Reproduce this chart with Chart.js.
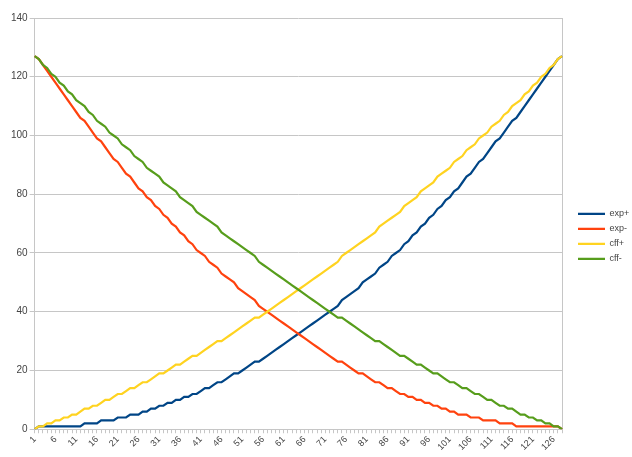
<!DOCTYPE html>
<html>
<head>
<meta charset="utf-8">
<script src="https://cdn.jsdelivr.net/npm/chart.js@4/dist/chart.umd.min.js"></script>
<style>
html, body { margin: 0; padding: 0; background: #fff; }
#wrap { width: 632px; height: 457px; }
</style>
</head>
<body>
<div id="wrap"><canvas id="myChart" width="632" height="457"></canvas></div>
<script>
// categories 1..128 along the x axis
var steps = [1,2,3,4,5,6,7,8,9,10,11,12,13,14,15,16,17,18,19,20,
  21,22,23,24,25,26,27,28,29,30,31,32,33,34,35,36,37,38,39,40,
  41,42,43,44,45,46,47,48,49,50,51,52,53,54,55,56,57,58,59,60,
  61,62,63,64,65,66,67,68,69,70,71,72,73,74,75,76,77,78,79,80,
  81,82,83,84,85,86,87,88,89,90,91,92,93,94,95,96,97,98,99,100,
  101,102,103,104,105,106,107,108,109,110,111,112,113,114,115,116,117,118,119,120,
  121,122,123,124,125,126,127,128];

// only these get a visible label
var shownTicks = [1,6,11,16,21,26,31,36,41,46,51,56,61,66,71,76,81,86,91,96,101,106,111,116,121,126];

var seriesNames = ['exp+', 'exp-', 'cff+', 'cff-'];

var expUp = [0,1,1,1,1,1,1,1,1,1,
  1,1,2,2,2,2,3,3,3,3,
  4,4,4,5,5,5,6,6,7,7,
  8,8,9,9,10,10,11,11,12,12,
  13,14,14,15,16,16,17,18,19,19,
  20,21,22,23,23,24,25,26,27,28,
  29,30,31,32,33,34,35,36,37,38,
  39,40,41,42,44,45,46,47,48,50,
  51,52,53,55,56,57,59,60,61,63,
  64,66,67,69,70,72,73,75,76,78,
  79,81,82,84,86,87,89,91,92,94,
  96,98,99,101,103,105,106,108,110,112,
  114,116,118,120,122,124,126,127];

var expDown = [127,126,124,122,120,118,116,114,
  112,110,108,106,105,103,101,99,98,96,
  94,92,91,89,87,86,84,82,81,79,
  78,76,75,73,72,70,69,67,66,64,
  63,61,60,59,57,56,55,53,52,51,
  50,48,47,46,45,44,42,41,40,39,
  38,37,36,35,34,33,32,31,30,29,
  28,27,26,25,24,23,23,22,21,20,
  19,19,18,17,16,16,15,14,14,13,
  12,12,11,11,10,10,9,9,8,8,
  7,7,6,6,5,5,5,4,4,4,
  3,3,3,3,2,2,2,2,1,1,
  1,1,1,1,1,1,1,1,1,0];

var cffUp = [0,1,1,2,2,3,3,4,4,5,
  5,6,7,7,8,8,9,10,10,11,
  12,12,13,14,14,15,16,16,17,18,
  19,19,20,21,22,22,23,24,25,25,
  26,27,28,29,30,30,31,32,33,34,
  35,36,37,38,38,39,40,41,42,43,
  44,45,46,47,48,49,50,51,52,53,
  54,55,56,57,59,60,61,62,63,64,
  65,66,67,69,70,71,72,73,74,76,
  77,78,79,81,82,83,84,86,87,88,
  89,91,92,93,95,96,97,99,100,101,
  103,104,105,107,108,110,111,112,114,115,
  117,118,120,121,123,124,126,127];

var cffDown = [127,126,124,123,121,120,118,117,
  115,114,112,111,110,108,107,105,104,103,
  101,100,99,97,96,95,93,92,91,89,
  88,87,86,84,83,82,81,79,78,77,
  76,74,73,72,71,70,69,67,66,65,
  64,63,62,61,60,59,57,56,55,54,
  53,52,51,50,49,48,47,46,45,44,
  43,42,41,40,39,38,38,37,36,35,
  34,33,32,31,30,30,29,28,27,26,
  25,25,24,23,22,22,21,20,19,19,
  18,17,16,16,15,14,14,13,12,12,
  11,10,10,9,8,8,7,7,6,5,
  5,4,4,3,3,2,2,1,1,0];

var yTicks = [0, 20, 40, 60, 80, 100, 120, 140];

var colors = ['#004586', '#ff420e', '#ffd320', '#579d1c'];
var allSeries = [expUp, expDown, cffUp, cffDown];

var datasets = [];
for (var i = 0; i < allSeries.length; i++) {
  datasets.push({
    label: seriesNames[i],
    data: allSeries[i],
    borderColor: colors[i],
    backgroundColor: colors[i],
    borderWidth: 2.2,
    pointRadius: 0,
    tension: 0,
    fill: false,
    order: allSeries.length - i // later series drawn on top, like the original
  });
}

var gridGrey = '#c6c6c6';
var textGrey = '#444';

var ctx = document.getElementById('myChart').getContext('2d');
var myChart = new Chart(ctx, {
  type: 'line',
  data: { labels: steps, datasets: datasets },
  options: {
    responsive: false,
    animation: false,
    devicePixelRatio: 1,
    layout: { padding: { left: 9, top: 18, right: 0, bottom: 3.5 } },
    plugins: {
      tooltip: { enabled: false },
      legend: {
        position: 'right',
        align: 'center',
        maxWidth: 60,
        title: { display: true, text: ' ', font: { size: 1 }, padding: 0 },
        labels: {
          usePointStyle: true,
          pointStyle: 'line',
          pointStyleWidth: 27,
          padding: 6,
          color: textGrey,
          font: { family: 'Liberation Sans', size: 9 },
          sort: function(a, b) { return a.datasetIndex - b.datasetIndex; }
        }
      }
    },
    scales: {
      x: {
        type: 'category',
        offset: false,
        grid: { drawOnChartArea: false, drawTicks: true, tickLength: 4, color: gridGrey },
        border: { color: gridGrey },
        ticks: {
          autoSkip: false,
          minRotation: 45,
          maxRotation: 45,
          padding: 1,
          color: textGrey,
          font: { family: 'Liberation Sans', size: 9 },
          callback: function(value, index) {
            var lab = steps[index];
            return shownTicks.indexOf(lab) >= 0 ? String(lab) : '';
          }
        }
      },
      y: {
        min: 0,
        max: 140,
        grid: { color: gridGrey, tickLength: 5 },
        border: { color: gridGrey },
        afterBuildTicks: function(scale) {
          scale.ticks = yTicks.map(function(v) { return { value: v }; });
        },
        ticks: {
          padding: 2,
          color: textGrey,
          font: { family: 'Liberation Sans', size: 10 }
        }
      },
      yRight: {
        position: 'right',
        display: true,
        grid: { drawOnChartArea: false, drawTicks: false },
        ticks: { display: false },
        border: { display: true, color: gridGrey },
        afterFit: function(scale) { scale.width = 10; }
      }
    }
  }
});
</script>
</body>
</html>
